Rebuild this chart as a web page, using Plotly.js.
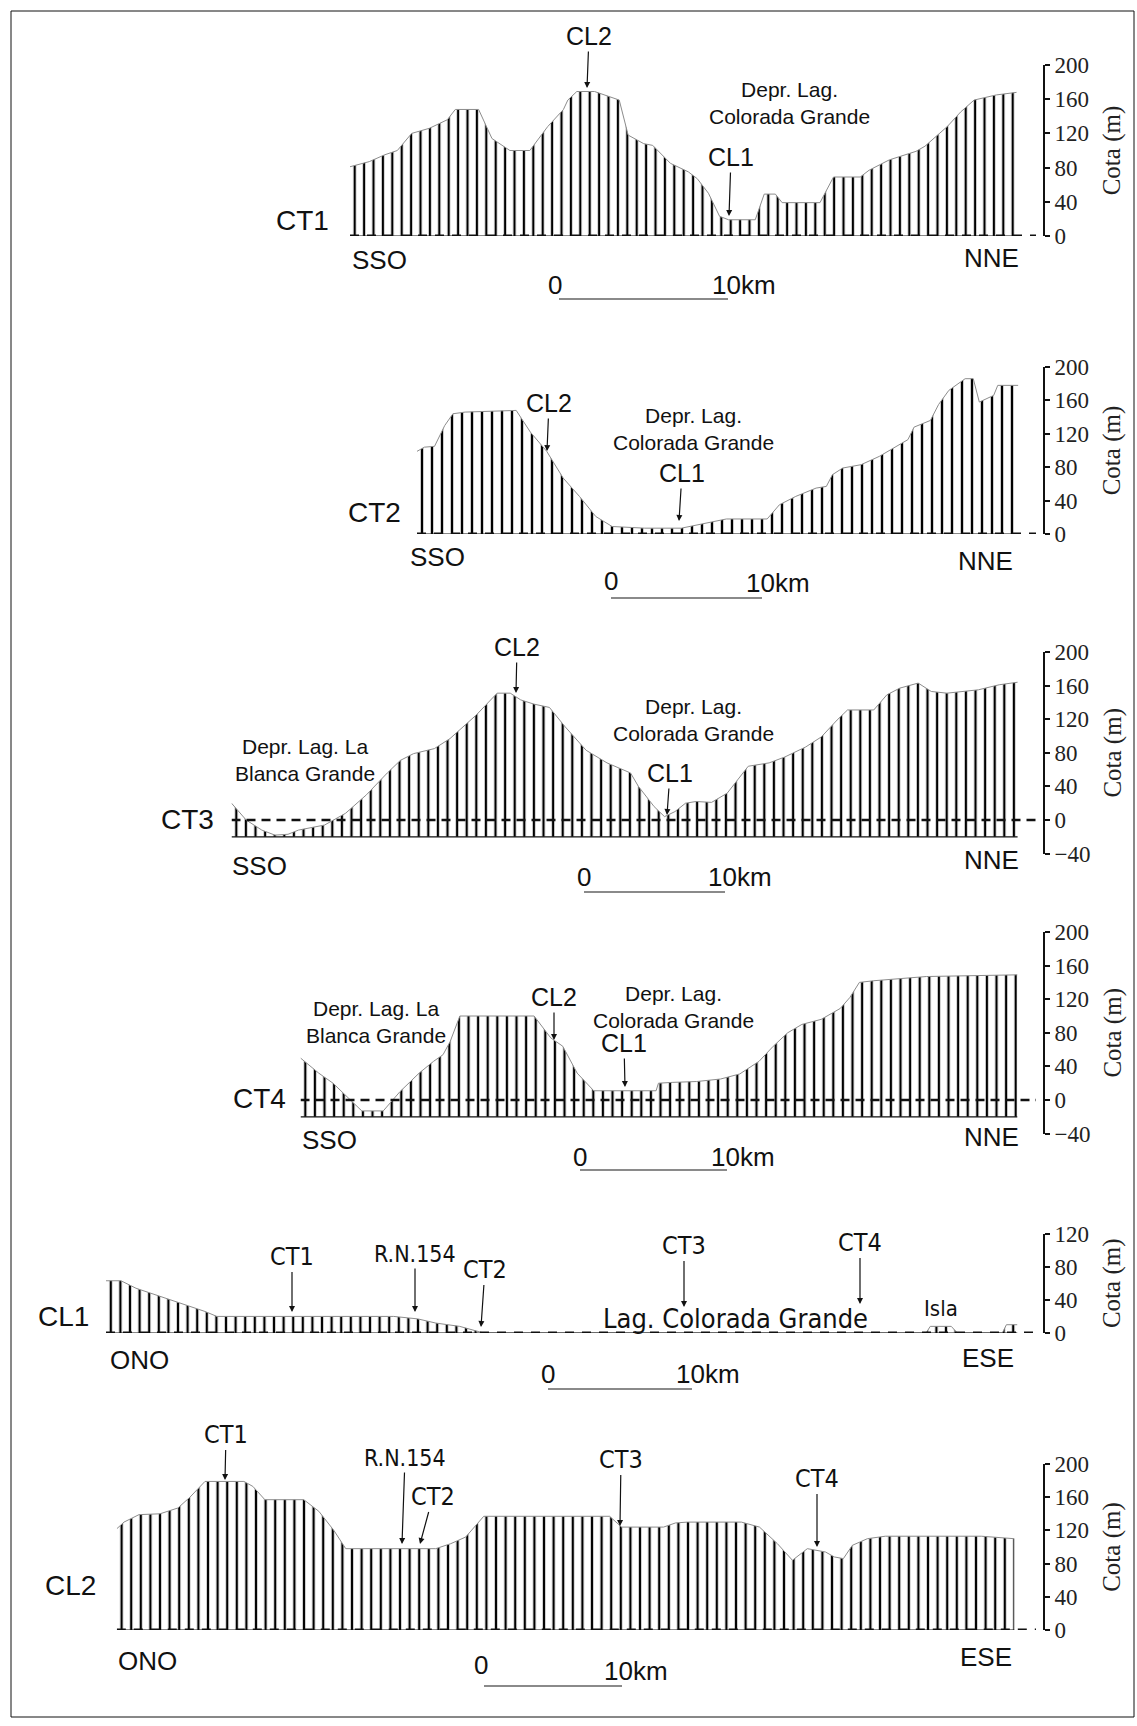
<!DOCTYPE html>
<html><head><meta charset="utf-8">
<script src="https://cdn.plot.ly/plotly-3.0.1.min.js"></script>
<style>html,body{margin:0;padding:0;background:#fff}#chart{width:1137px;height:1726px}</style>
</head><body><div id="chart"></div>
<script>
// ---------------- DATA: distance along profile (km) and elevation (m) ----------------
const ct1_km = [0, 1.14, 2.06, 2.80, 3.65, 4.70, 5.76, 6.23, 7.61, 8.40, 9.46, 10.64, 11.70, 12.63, 12.89, 13.42, 14.47, 15.93, 16.46, 17.38, 17.91, 18.96, 20.02, 20.55, 21.21, 21.87, 22.40, 23.98, 24.51, 25.17, 25.57, 27.81, 28.61, 30.19, 30.72, 31.91, 33.49, 34.02, 35.34, 36.13, 36.93, 38.25, 39.44];
const ct1_m  = [81, 87, 95, 100, 120, 126, 136, 148, 148, 114, 100, 100, 128, 148, 159, 169, 169, 159, 118, 108, 106, 85, 75, 67, 50, 23, 19, 19, 49, 49, 39, 39, 69, 69, 77, 89, 99, 105, 128, 145, 159, 165, 168];

const ct2_km = [0, 0.49, 1.16, 1.84, 2.38, 3.19, 6.57, 7.51, 8.59, 9.68, 10.76, 11.84, 12.92, 15.08, 17.51, 19.14, 20.49, 23.19, 24.00, 25.08, 26.43, 27.11, 27.51, 28.19, 29.41, 30.62, 32.51, 32.92, 34.00, 34.54, 35.22, 36.30, 36.84, 37.24, 38.19, 38.46, 39.81];
const ct2_m  = [99, 104, 105, 130, 144, 146, 148, 122, 99, 67, 45, 21, 9, 7, 7, 13, 18, 18, 35, 45, 55, 57, 71, 79, 83, 93, 113, 128, 136, 155, 172, 186, 186, 158, 166, 178, 178];

const ct3_km = [0, 1.04, 2.15, 3.08, 4.01, 4.75, 6.60, 8.09, 9.57, 11.05, 11.98, 12.91, 14.39, 15.50, 17.36, 18.84, 19.77, 20.51, 21.44, 22.55, 23.66, 25.15, 26.63, 28.30, 28.86, 29.97, 30.71, 31.45, 32.20, 32.94, 34.05, 35.16, 36.65, 38.13, 39.24, 40.73, 41.84, 42.95, 43.69, 45.55, 46.48, 47.40, 48.70, 49.63, 50.74, 52.97, 54.45, 55.75];
const ct3_m  = [20, 0, -12, -18, -17, -12, -6, 8, 30, 56, 71, 79, 85, 97, 125, 151, 151, 143, 138, 134, 111, 83, 68, 56, 40, 16, 4, 10, 20, 22, 21, 32, 64, 68, 75, 87, 99, 119, 131, 131, 149, 157, 163, 153, 151, 155, 161, 164];
const ct3_base = -20;

const ct4_km = [0, 1.24, 2.21, 3.19, 4.17, 5.63, 6.77, 8.07, 9.05, 9.70, 10.19, 10.84, 15.89, 17.02, 17.84, 18.82, 19.95, 24.19, 24.35, 25.33, 26.95, 28.58, 29.88, 31.19, 32.16, 33.14, 34.11, 35.42, 36.72, 37.37, 38.02, 39.00, 42.58, 48.76];
const ct4_m  = [50, 32, 20, 4, -13, -13, 10, 32, 46, 54, 70, 100, 100, 74, 64, 32, 11, 11, 20, 21, 22, 25, 31, 46, 64, 80, 90, 96, 109, 122, 140, 142, 147, 149];
const ct4_base = -20;

const cl1_km = [0, 1.04, 2.08, 3.75, 5.41, 6.87, 7.70, 19.98, 21.65, 22.90, 24.56, 26.23, 56.95, 57.24, 58.70, 59.12, 62.24, 62.53, 63.28];
const cl1_m  = [63, 63, 54, 44, 34, 26, 20, 20, 17, 12, 8, 0, 0, 8, 8, 0, 0, 10, 10];

const cl2_km = [0, 0.52, 1.61, 3.13, 4.43, 5.30, 6.39, 9.21, 9.86, 10.73, 13.55, 14.64, 15.73, 16.59, 23.11, 24.20, 25.28, 26.59, 35.71, 36.58, 39.62, 40.49, 41.36, 45.26, 46.57, 47.87, 48.96, 50.04, 51.35, 52.00, 52.65, 53.30, 54.39, 55.69, 62.64, 65.03];
const cl2_m  = [122, 130, 139, 140, 147, 160, 179, 179, 173, 157, 157, 143, 120, 98, 98, 104, 112, 137, 137, 124, 124, 129, 130, 130, 124, 104, 84, 98, 94, 88, 86, 102, 110, 113, 113, 110];

const cota_ticks_step = 40;   // m
const scale_km = 10;          // length of the graphic scale

// ---------------- LAYOUT ----------------
const W = 1137, H = 1726;
const px = x => x / W;
const py = y => 1 - y / H;
const SANS = 'Liberation Sans, Arial, Helvetica, sans-serif';
const NARROW = 'Liberation Sans Narrow, Arial Narrow, DejaVu Sans Condensed, Liberation Sans, sans-serif';
const SERIF = 'Liberation Serif, Times New Roman, serif';
const AXIS_X = 1043;

const panels = [
  {km: ct1_km, m: ct1_m, base: null,     range: [0, 200],  top: 65,     bot: 236,    x0: 350,   ppk: 16.9, hatch: 9.4, sbX: 559, sbY: 299},
  {km: ct2_km, m: ct2_m, base: null,     range: [0, 200],  top: 367,    bot: 534,    x0: 417,   ppk: 15.1, hatch: 10,  sbX: 611, sbY: 598},
  {km: ct3_km, m: ct3_m, base: ct3_base, range: [-40, 200], top: 652,   bot: 853.6,  x0: 231.5, ppk: 14.1, hatch: 9.6, sbX: 584, sbY: 892},
  {km: ct4_km, m: ct4_m, base: ct4_base, range: [-40, 200], top: 932,   bot: 1133.6, x0: 300.5, ppk: 14.7, hatch: 9.6, sbX: 580, sbY: 1170},
  {km: cl1_km, m: cl1_m, base: null,     range: [0, 120],  top: 1233.5, bot: 1333,   x0: 106,   ppk: 14.4, hatch: 9.6, sbX: 548, sbY: 1389},
  {km: cl2_km, m: cl2_m, base: null,     range: [0, 200],  top: 1464,   bot: 1630,   x0: 116.8, ppk: 13.8, hatch: 9.6, sbX: 484, sbY: 1686}
];

const traces = [];
const layout = {
  width: W, height: H, autosize: false,
  margin: {l: 0, r: 0, t: 0, b: 0},
  paper_bgcolor: '#fff', plot_bgcolor: 'rgba(0,0,0,0)',
  showlegend: false,
  shapes: [], annotations: []
};

panels.forEach((p, i) => {
  const n = i === 0 ? '' : String(i + 1);
  const xa = 'x' + n, ya = 'y' + n;
  const xEnd = (AXIS_X - p.x0) / p.ppk;
  layout['xaxis' + n] = {
    domain: [px(p.x0), px(AXIS_X)], range: [0, xEnd], visible: false,
    anchor: ya, fixedrange: true
  };
  layout['yaxis' + n] = {
    domain: [py(p.bot), py(p.top)], range: p.range, anchor: xa, side: 'right',
    showgrid: false, zeroline: false, showline: true, linecolor: '#111', linewidth: 2,
    ticks: 'outside', ticklen: 5, tickwidth: 2, tickcolor: '#111',
    tickmode: 'linear', tick0: 0, dtick: cota_ticks_step,
    tickfont: {family: SERIF, size: 23, color: '#222'},
    title: {text: 'Cota (m)', font: {family: SERIF, size: 25, color: '#222'}, standoff: 14},
    fixedrange: true
  };
  const last = p.km[p.km.length - 1];
  if (p.base !== null) {
    traces.push({x: [p.km[0], last], y: [p.base, p.base], xaxis: xa, yaxis: ya,
      mode: 'lines', line: {color: '#111', width: 1.3}, hoverinfo: 'skip'});
  }
  traces.push({
    x: p.km, y: p.m, xaxis: xa, yaxis: ya, mode: 'lines',
    line: {color: '#8c8c8c', width: 1},
    fill: p.base !== null ? 'tonexty' : 'tozeroy',
    fillcolor: '#ffffff',
    fillpattern: {shape: '|', size: p.hatch, solidity: 0.24, fgcolor: '#000', bgcolor: '#fff', fgopacity: 1},
    hoverinfo: 'skip'
  });
  // datum line at 0 m (dashed) reaching the axis
  layout.shapes.push({type: 'line', xref: xa, yref: ya, x0: 0, x1: (AXIS_X - 7 - p.x0) / p.ppk, y0: 0, y1: 0,
    line: {color: '#111', width: p.base !== null ? 2.4 : 3, dash: p.base !== null ? '9px,6px' : '9px,8px'}});
  if (p.base === null) {
    layout.shapes.push({type: 'line', xref: xa, yref: ya, x0: 0, x1: last, y0: 0, y1: 0,
      line: {color: '#111', width: 1}});
  }
  // graphic scale bar
  layout.shapes.push({type: 'line', xref: 'paper', yref: 'paper',
    x0: px(p.sbX), x1: px(p.sbX + scale_km * p.ppk), y0: py(p.sbY), y1: py(p.sbY),
    line: {color: '#8a8a8a', width: 2}});
});

// frame
layout.shapes.push({type: 'rect', xref: 'paper', yref: 'paper', x0: px(11), x1: px(1134), y0: py(1717), y1: py(11),
  line: {color: '#111', width: 1}});

function txt(text, cx, cy, size, fam) {
  return {xref: 'paper', yref: 'paper', x: px(cx), y: py(cy), text: text, showarrow: false,
    xanchor: 'center', yanchor: 'middle', font: {family: fam || SANS, size: size, color: '#111'}};
}
function arr(text, cx, cy, tx, ty, size, fam) {
  return {xref: 'paper', yref: 'paper', x: px(tx), y: py(ty), ax: cx - tx, ay: cy - ty, text: text,
    showarrow: true, arrowhead: 2, arrowsize: 1, arrowwidth: 1.2, arrowcolor: '#111', standoff: 0,
    font: {family: fam || SANS, size: size, color: '#111'}};
}

const A = layout.annotations;
const DEPR = 21, TAG = 28, DIR = 26, SC = 26, CL = 25;
// Panel CT1
A.push(arr('CL2', 589, 36, 587, 88, CL));
A.push(arr('CL1', 731, 157, 729, 216, CL));
A.push(txt('Depr. Lag.<br>Colorada Grande', 789, 103, DEPR));
A.push(txt('CT1', 302, 220, TAG));
A.push(txt('SSO', 379, 260, DIR));
A.push(txt('NNE', 991, 258, DIR));
A.push(txt('0', 555, 285, SC));
A.push(txt('10km', 744, 285, SC));
// Panel CT2
A.push(arr('CL2', 549, 403, 547, 451, CL));
A.push(arr('CL1', 682, 473, 679, 521, CL));
A.push(txt('Depr. Lag.<br>Colorada Grande', 693, 429, DEPR));
A.push(txt('CT2', 374, 512, TAG));
A.push(txt('SSO', 437, 557, DIR));
A.push(txt('NNE', 985, 561, DIR));
A.push(txt('0', 611, 581, SC));
A.push(txt('10km', 778, 583, SC));
// Panel CT3
A.push(arr('CL2', 517, 647, 516, 693, CL));
A.push(arr('CL1', 670, 773, 667, 815, CL));
A.push(txt('Depr. Lag. La<br>Blanca Grande', 305, 760, DEPR));
A.push(txt('Depr. Lag.<br>Colorada Grande', 693, 720, DEPR));
A.push(txt('CT3', 187, 819, TAG));
A.push(txt('SSO', 259, 866, DIR));
A.push(txt('NNE', 991, 860, DIR));
A.push(txt('0', 584, 877, SC));
A.push(txt('10km', 740, 877, SC));
// Panel CT4
A.push(txt('Depr. Lag. La<br>Blanca Grande', 376, 1022, DEPR));
A.push(arr('CL2', 554, 997, 554, 1040, CL));
A.push(txt('Depr. Lag.<br>Colorada Grande', 673, 1007, DEPR));
A.push(arr('CL1', 624, 1043, 625, 1087, CL));
A.push(txt('CT4', 259, 1098, TAG));
A.push(txt('SSO', 329, 1140, DIR));
A.push(txt('NNE', 991, 1137, DIR));
A.push(txt('0', 580, 1157, SC));
A.push(txt('10km', 743, 1157, SC));
// Panel CL1
A.push(arr('CT1', 292, 1256, 292, 1312, 25, NARROW));
A.push(arr('R.N.154', 415, 1254, 415, 1312, 23, NARROW));
A.push(arr('CT2', 485, 1269, 481, 1327, 25, NARROW));
A.push(arr('CT3', 684, 1245, 684, 1307, 25, NARROW));
A.push(arr('CT4', 860, 1242, 860, 1304, 25, NARROW));
A.push(txt('Lag. Colorada Grande', 735, 1318, 27, NARROW));
A.push(txt('Isla', 941, 1308, 22, NARROW));
A.push(txt('CL1', 63, 1316, TAG));
A.push(txt('ONO', 139, 1360, DIR));
A.push(txt('ESE', 988, 1358, DIR));
A.push(txt('0', 548, 1374, SC));
A.push(txt('10km', 708, 1374, SC));
// Panel CL2
A.push(arr('CT1', 226, 1434, 225, 1480, 25, NARROW));
A.push(arr('R.N.154', 405, 1458, 402, 1544, 23, NARROW));
A.push(arr('CT2', 433, 1496, 420, 1544, 25, NARROW));
A.push(arr('CT3', 621, 1459, 620, 1526, 25, NARROW));
A.push(arr('CT4', 817, 1478, 817, 1547, 25, NARROW));
A.push(txt('CL2', 70, 1585, TAG));
A.push(txt('ONO', 147, 1661, DIR));
A.push(txt('ESE', 986, 1657, DIR));
A.push(txt('0', 481, 1665, SC));
A.push(txt('10km', 636, 1671, SC));

Plotly.newPlot('chart', traces, layout, {staticPlot: true, displayModeBar: false});
</script>
</body></html>
